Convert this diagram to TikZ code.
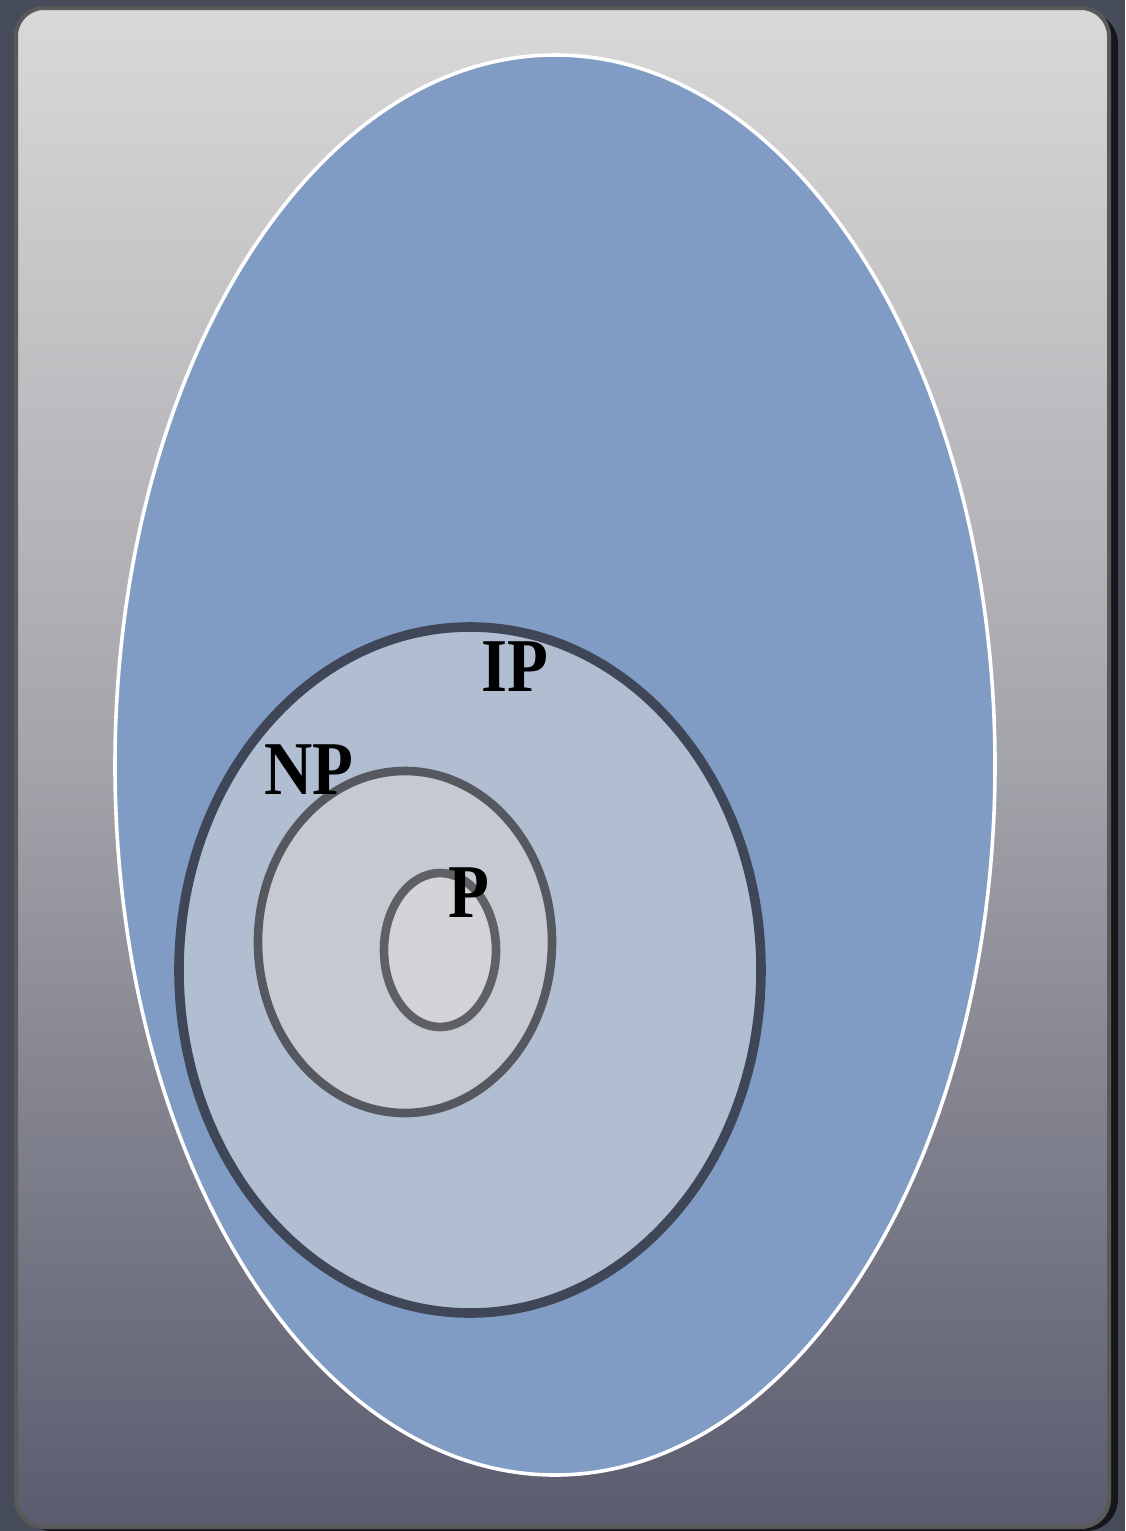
\documentclass[tikz,border=0pt]{standalone}
\usepackage{fontspec}
\setmainfont{Liberation Serif}
\definecolor{outerbg}{HTML}{474C5B}
\definecolor{frame}{HTML}{595959}
\definecolor{gtop}{HTML}{D9D9D9}
\definecolor{gmid}{HTML}{A3A3AA}
\definecolor{gbot}{HTML}{5A5B6E}
\definecolor{eggblue}{HTML}{819CC4}
\definecolor{ipfill}{HTML}{B1BDD0}
\definecolor{ipline}{HTML}{3E4657}
\definecolor{npfill}{HTML}{C5C9D2}
\definecolor{npline}{HTML}{55595F}
\definecolor{pfill}{HTML}{D3D4D8}
\definecolor{pline}{HTML}{5E6064}
\tikzset{
  x=0.5pt, y=-0.5pt,
  lbl/.style={font=\fontsize{38}{38}\selectfont\bfseries, text=black, inner sep=0pt, anchor=center, xscale=0.88},
}
\begin{document}
\begin{tikzpicture}
% page background
\fill[outerbg] (0,0) rectangle (1125,1531);
\useasboundingbox (0,0) rectangle (1125,1531);
% shadow
\fill[black!70!outerbg, rounded corners=16pt] (20,12) rectangle (1118,1531);
% card
\shade[top color=gtop, bottom color=gbot, middle color=gmid, rounded corners=14pt]
  (15,7) rectangle (1110,1528);
\draw[frame, line width=2pt, rounded corners=14pt] (16,8) rectangle (1109,1527);
% big egg
\fill[eggblue] (555,765) ellipse [x radius=440, y radius=710];
\draw[white, line width=1.8pt] (555,765) ellipse [x radius=440, y radius=710];
% IP
\filldraw[fill=ipfill, draw=ipline, line width=4.8pt] (470,970) ellipse [x radius=291, y radius=343];
% NP
\filldraw[fill=npfill, draw=npline, line width=4.3pt] (405,942) ellipse [x radius=147, y radius=171];
% P
\filldraw[fill=pfill, draw=pline, line width=4.3pt] (440,950) ellipse [x radius=56, y radius=77];
% labels
\node[lbl] (ip) at (515,667) {IP};
\node[lbl] (np) at (309,770) {NP};
\node[lbl] (p) at (469,893) {P};
\end{tikzpicture}
\end{document}
